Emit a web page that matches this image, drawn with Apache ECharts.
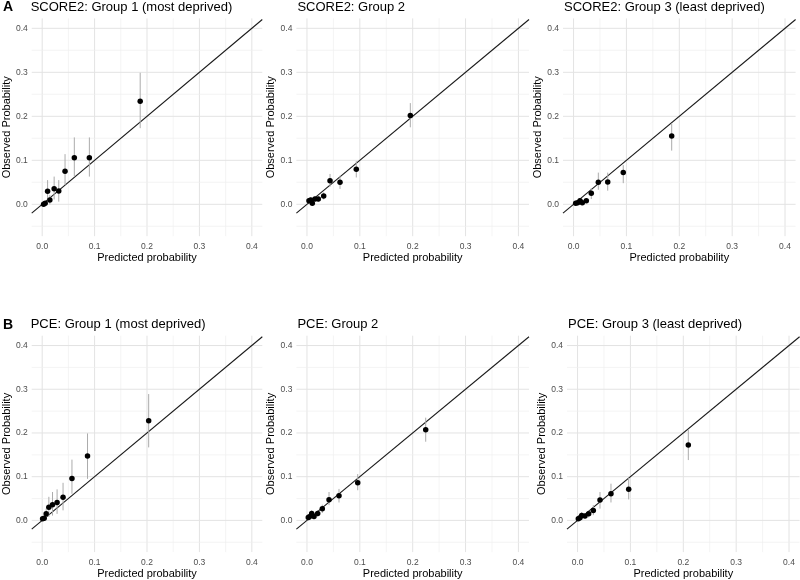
<!DOCTYPE html>
<html>
<head>
<meta charset="utf-8">
<script src="https://cdn.jsdelivr.net/npm/echarts@6.0.0/dist/echarts.min.js"></script>
<style>html,body{margin:0;padding:0;background:#fff;}#c{width:800px;height:580px;}</style>
</head>
<body>
<div id="c"></div>
<script>
// ---- axis ranges and ticks ----
const X_RANGE = [-0.02, 0.42];
const Y_RANGE = [-0.0725, 0.4225];
const X_TICKS = [0, 0.1, 0.2, 0.3, 0.4];
const Y_TICKS = [0, 0.1, 0.2, 0.3, 0.4];
const X_GRID = [0, 0.05, 0.1, 0.15, 0.2, 0.25, 0.3, 0.35, 0.4];
const Y_GRID = [-0.05, 0, 0.05, 0.1, 0.15, 0.2, 0.25, 0.3, 0.35, 0.4];

// ---- panel titles ----
const tags = ['A', 'B'];
const titles = [
  'SCORE2: Group 1 (most deprived)', 'SCORE2: Group 2', 'SCORE2: Group 3 (least deprived)',
  'PCE: Group 1 (most deprived)', 'PCE: Group 2', 'PCE: Group 3 (least deprived)'
];

// ---- data: predicted, observed, lower CI, upper CI ----
const a1Pred = [0.0027, 0.0057, 0.0103, 0.0146, 0.0228, 0.0316, 0.0436, 0.0613, 0.090, 0.187];
const a1Obs  = [0.000, 0.0023, 0.0295, 0.0098, 0.0355, 0.030, 0.075, 0.106, 0.106, 0.234];
const a1Lo   = [-0.002, -0.002, 0.006, 0.000, 0.011, 0.006, 0.044, 0.063, 0.063, 0.173];
const a1Hi   = [0.003, 0.007, 0.055, 0.021, 0.063, 0.055, 0.114, 0.152, 0.152, 0.299];

const a2Pred = [0.0038, 0.0071, 0.0101, 0.0152, 0.0214, 0.0316, 0.0436, 0.0625, 0.0933, 0.1955];
const a2Obs  = [0.008, 0.0098, 0.0023, 0.012, 0.012, 0.019, 0.0536, 0.050, 0.0795, 0.202];
const a2Lo   = [0.003, 0.004, -0.001, 0.006, 0.006, 0.011, 0.040, 0.035, 0.061, 0.175];
const a2Hi   = [0.013, 0.016, 0.006, 0.018, 0.018, 0.027, 0.069, 0.065, 0.098, 0.230];

const a3Pred = [0.004, 0.0078, 0.0122, 0.0165, 0.0241, 0.0335, 0.0468, 0.0646, 0.094, 0.1856];
const a3Obs  = [0.0023, 0.0036, 0.0082, 0.0036, 0.0082, 0.025, 0.050, 0.0507, 0.072, 0.155];
const a3Lo   = [0.000, 0.000, 0.003, 0.000, 0.003, 0.012, 0.033, 0.031, 0.048, 0.122];
const a3Hi   = [0.005, 0.008, 0.014, 0.008, 0.014, 0.037, 0.072, 0.072, 0.089, 0.184];

const b1Pred = [0.0008, 0.0038, 0.0076, 0.0127, 0.0197, 0.0284, 0.0398, 0.0568, 0.0865, 0.2032];
const b1Obs  = [0.0036, 0.005, 0.015, 0.030, 0.036, 0.041, 0.053, 0.096, 0.1475, 0.228];
const b1Lo   = [0.000, 0.001, 0.005, 0.008, 0.011, 0.015, 0.023, 0.061, 0.095, 0.167];
const b1Hi   = [0.008, 0.010, 0.027, 0.054, 0.065, 0.071, 0.086, 0.139, 0.199, 0.289];

const b2Pred = [0.0025, 0.0045, 0.0089, 0.0133, 0.0203, 0.029, 0.0417, 0.0606, 0.096, 0.2246];
const b2Obs  = [0.0066, 0.0085, 0.0157, 0.0089, 0.0157, 0.0264, 0.0475, 0.0566, 0.086, 0.2075];
const b2Lo   = [0.002, 0.003, 0.008, 0.003, 0.009, 0.017, 0.035, 0.041, 0.069, 0.180];
const b2Hi   = [0.012, 0.014, 0.023, 0.015, 0.023, 0.036, 0.065, 0.072, 0.106, 0.235];

const b3Pred = [0.0014, 0.0046, 0.0078, 0.014, 0.021, 0.0298, 0.0424, 0.0632, 0.0967, 0.2095];
const b3Obs  = [0.0036, 0.006, 0.011, 0.0098, 0.015, 0.0225, 0.0468, 0.0611, 0.071, 0.1725];
const b3Lo   = [0.000, 0.001, 0.004, 0.004, 0.007, 0.012, 0.027, 0.041, 0.048, 0.138];
const b3Hi   = [0.008, 0.012, 0.019, 0.016, 0.023, 0.035, 0.065, 0.084, 0.097, 0.207];

const panels = [
  [a1Pred, a1Obs, a1Lo, a1Hi], [a2Pred, a2Obs, a2Lo, a2Hi], [a3Pred, a3Obs, a3Lo, a3Hi],
  [b1Pred, b1Obs, b1Lo, b1Hi], [b2Pred, b2Obs, b2Lo, b2Hi], [b3Pred, b3Obs, b3Lo, b3Hi]
];

// ---- layout ----
const FONT = 'Liberation Sans, Arial, sans-serif';
const lefts = [29.7, 296.4, 563.0, 29.7, 296.4, 567.0];
const tops = [18.4, 18.4, 18.4, 335.7, 335.7, 335.7];
const W = 232.6, H = 217.8;

const grid = [], xAxis = [], yAxis = [], series = [], title = [];
const isMajor = v => Math.abs(v * 10 - Math.round(v * 10)) < 1e-6;

panels.forEach((p, i) => {
  grid.push({left: lefts[i], top: tops[i], width: W, height: H, containLabel: false});
  xAxis.push({
    gridIndex: i, type: 'value', min: X_RANGE[0], max: X_RANGE[1],
    axisLine: {show: false}, axisTick: {show: false}, splitLine: {show: false},
    axisLabel: {customValues: X_TICKS, formatter: v => v.toFixed(1), color: '#4d4d4d', fontSize: 8.5, margin: 6, fontFamily: FONT},
    name: 'Predicted probability', nameLocation: 'middle', nameGap: 15,
    nameTextStyle: {fontSize: 11, color: '#000', fontFamily: FONT}
  });
  yAxis.push({
    gridIndex: i, type: 'value', min: Y_RANGE[0], max: Y_RANGE[1],
    axisLine: {show: false}, axisTick: {show: false}, splitLine: {show: false},
    axisLabel: {customValues: Y_TICKS, formatter: v => v.toFixed(1), color: '#4d4d4d', fontSize: 8.5, margin: 4, fontFamily: FONT},
    name: 'Observed Probability', nameLocation: 'middle', nameGap: 19,
    nameTextStyle: {fontSize: 11, color: '#000', fontFamily: FONT}
  });
  title.push({
    text: titles[i], left: lefts[i] + 1, top: tops[i] - 17.5, padding: 0,
    textStyle: {fontSize: 13, fontWeight: 'normal', color: '#000', fontFamily: FONT}
  });
  if (i % 3 === 0) {
    title.push({
      text: tags[i / 3], left: 3, top: tops[i] - 17.8, padding: 0,
      textStyle: {fontSize: 14, fontWeight: 'bold', color: '#000', fontFamily: FONT}
    });
  }
  // vertical grid lines
  series.push({
    type: 'custom', xAxisIndex: i, yAxisIndex: i, silent: true, z: 0, clip: false,
    data: X_GRID.map(v => [v, Y_RANGE[0]]),
    renderItem: (params, api) => {
      const v = api.value(0);
      const a = api.coord([v, Y_RANGE[0]]), b = api.coord([v, Y_RANGE[1]]);
      const m = isMajor(v);
      return {type: 'line', shape: {x1: a[0], y1: a[1], x2: b[0], y2: b[1]},
        style: {stroke: m ? '#e3e3e3' : '#efefef', lineWidth: m ? 1 : 0.7}};
    }
  });
  // horizontal grid lines
  series.push({
    type: 'custom', xAxisIndex: i, yAxisIndex: i, silent: true, z: 0, clip: false,
    data: Y_GRID.map(v => [X_RANGE[0], v]),
    renderItem: (params, api) => {
      const v = api.value(1);
      const a = api.coord([X_RANGE[0], v]), b = api.coord([X_RANGE[1], v]);
      const m = isMajor(v);
      return {type: 'line', shape: {x1: a[0], y1: a[1], x2: b[0], y2: b[1]},
        style: {stroke: m ? '#e3e3e3' : '#efefef', lineWidth: m ? 1 : 0.7}};
    }
  });
  // identity line
  series.push({
    type: 'line', xAxisIndex: i, yAxisIndex: i, silent: true, z: 2, symbol: 'none',
    data: X_RANGE.map(v => [v, v]),
    lineStyle: {color: '#1a1a1a', width: 1.1}
  });
  // error bars
  const [pred, obs, lo, hi] = p;
  series.push({
    type: 'custom', xAxisIndex: i, yAxisIndex: i, silent: true, z: 3,
    encode: {x: 0, y: [1, 2]},
    data: pred.map((x, k) => [x, lo[k], hi[k]]),
    renderItem: (params, api) => {
      const a = api.coord([api.value(0), api.value(1)]);
      const b = api.coord([api.value(0), api.value(2)]);
      return {type: 'line', shape: {x1: a[0], y1: a[1], x2: b[0], y2: b[1]},
        style: {stroke: '#ababab', lineWidth: 1}};
    }
  });
  // points
  series.push({
    type: 'scatter', xAxisIndex: i, yAxisIndex: i, z: 4, symbolSize: 5.5,
    itemStyle: {color: '#000', opacity: 1},
    data: pred.map((x, k) => [x, obs[k]])
  });
});

const chart = echarts.init(document.getElementById('c'), null, {renderer: 'canvas'});
chart.setOption({animation: false, backgroundColor: '#fff', title, grid, xAxis, yAxis, series});
</script>
</body>
</html>
